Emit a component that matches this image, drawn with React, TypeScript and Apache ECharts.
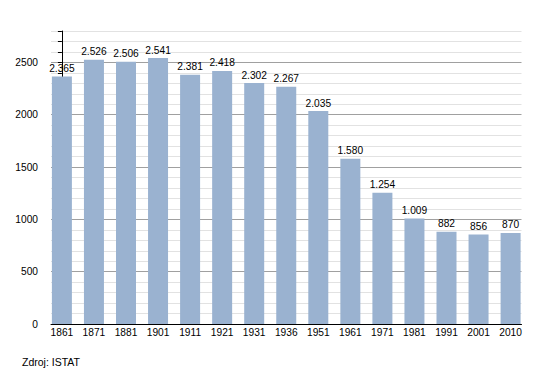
import React, { useEffect, useRef } from "react";
import * as echarts from "echarts";

const years = ["1861", "1871", "1881", "1901", "1911", "1921", "1931", "1936", "1951", "1961", "1971", "1981", "1991", "2001", "2010"];
const population = [2365, 2526, 2506, 2541, 2381, 2418, 2302, 2267, 2035, 1580, 1254, 1009, 882, 856, 870];
const sourceText = "Zdroj: ISTAT";

const fmt = (v: number) => {
  const s = String(Math.round(v));
  return s.replace(/\B(?=(\d{3})+(?!\d))/g, ".");
};

export default function App() {
  const ref = useRef<HTMLDivElement>(null);
  useEffect(() => {
    if (!ref.current) return;
    const chart = echarts.init(ref.current, undefined, { renderer: "svg" });
    const font = "'Liberation Sans', Arial, sans-serif";
    chart.setOption({
      animation: false,
      backgroundColor: "#ffffff",
      title: {
        text: sourceText,
        left: 22,
        top: 356,
        padding: 0,
        textStyle: { fontSize: 10.5, fontWeight: "normal", color: "#000", fontFamily: font },
      },
      grid: { left: 51, right: 28.5, top: 31, bottom: 49, containLabel: false },
      xAxis: {
        type: "value",
        min: -0.34,
        max: 14.34,
        axisLine: { show: true, onZero: false, lineStyle: { color: "#000", width: 1 } },
        axisTick: { show: false },
        splitLine: { show: false },
        axisLabel: {
          customValues: years.map((_, i) => i),
          formatter: (v: number) => years[Math.round(v)] ?? "",
          color: "#000",
          fontSize: 10.2,
          fontFamily: font,
          margin: 3,
          showMinLabel: true,
          showMaxLabel: true,
        },
      },
      yAxis: {
        type: "value",
        min: 0,
        max: 2800,
        interval: 100,
        axisLine: { show: true, lineStyle: { color: "#000", width: 1 } },
        axisTick: { show: true, length: 4, lineStyle: { color: "#000", width: 1 } },
        axisLabel: {
          formatter: (v: number) => (v % 500 === 0 ? String(v) : ""),
          color: "#000",
          fontSize: 10.2,
          fontFamily: font,
          margin: 13,
        },
        splitLine: {
          show: true,
          lineStyle: { color: ["#a0a0a0", "#e2e2e2", "#e2e2e2", "#e2e2e2", "#e2e2e2"], width: 1 },
        },
      },
      series: [
        {
          type: "bar",
          data: population.map((v, i) => [i, v]),
          barWidth: 20,
          itemStyle: { color: "#9ab2d0" },
          label: {
            show: true,
            position: "top",
            distance: 3,
            formatter: (p: any) => fmt(p.value[1]),
            color: "#000",
            fontSize: 10.2,
            fontFamily: font,
          },
        },
      ],
    });
    return () => chart.dispose();
  }, []);
  return <div ref={ref} style={{ position: "fixed", left: 0, top: 0, width: 550, height: 373 }} />;
}
